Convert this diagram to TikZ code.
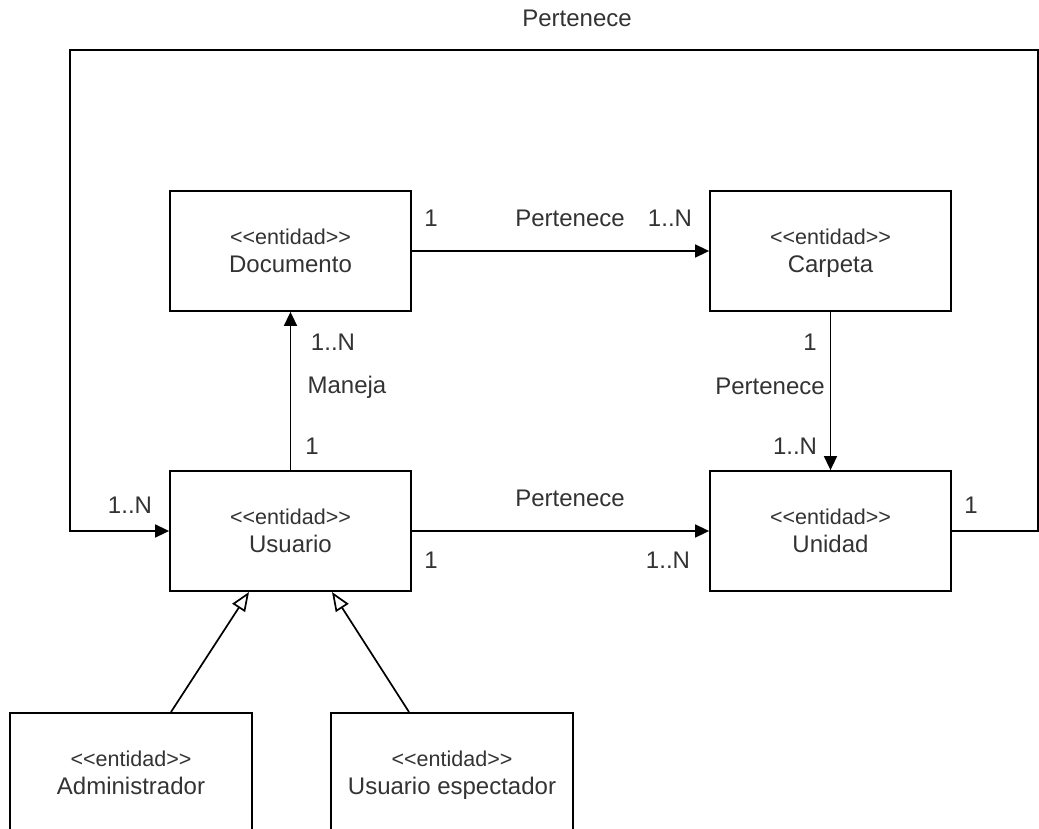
\documentclass[tikz,border=0pt]{standalone}
\usepackage{fontspec}
\setmainfont{Liberation Sans}
\usetikzlibrary{arrows.meta}
\begin{document}
\begin{tikzpicture}[x=1pt,y=-1pt,
  ent/.style={draw=black,line width=1.8pt,fill=white,minimum width=241pt,minimum height=120pt,inner sep=0pt,align=center,text=black!80,font=\fontsize{24}{28}\selectfont},
  conn/.style={draw=black,line width=1.7pt,-{Triangle[length=14pt,width=13pt]}},
  gen/.style={draw=black,line width=1.7pt,-{Triangle[open,length=19pt,width=15pt]}},
  lbl/.style={text=black!80,font=\fontsize{24}{28}\selectfont,inner sep=0pt}]
\useasboundingbox (0,0) rectangle (1039,829);
\newcommand{\ster}{{\fontsize{21.5}{24}\selectfont\rule{0pt}{22.8pt}<\kern0pt<entidad>\kern0pt>}\\[0pt]}
\newcommand{\nm}[1]{\strut #1}
\node[ent] (doc) at (290.5,251) {\ster\nm{Documento}};
\node[ent] (car) at (830.5,251) {\ster\nm{Carpeta}};
\node[ent] (usu) at (290.5,531) {\ster\nm{Usuario}};
\node[ent] (uni) at (830.5,531) {\ster\nm{Unidad}};
\node[ent,minimum width=242pt,anchor=north] (adm) at (131,712) {\ster\nm{Administrador}};
\node[ent,minimum width=242pt,anchor=north] (esp) at (452,712) {\ster\nm{Usuario espectador}};
% connectors
\draw[conn] (doc.east) -- (car.west);
\draw[conn] (usu.north) -- (doc.south);
\draw[conn] (car.south) -- (uni.north);
\draw[conn] (usu.east) -- (uni.west);
\coordinate (r1) at (1038,531);
\coordinate (r2) at (1038,50);
\coordinate (l1) at (70,50);
\coordinate (l2) at (70,531);
\draw[conn] (uni.east) -- (r1) -- (r2) -- (l1) -- (l2) -- (usu.west);
\draw[gen] (adm.north -| 171,0) -- (249,592);
\draw[gen] (esp.north -| 409,0) -- (332,592);
% labels
\node[lbl] (t0) at (577,18) {Pertenece};
\node[lbl] (t1) at (431,218) {1};
\node[lbl] (t2) at (570,218) {Pertenece};
\node[lbl] (t3) at (670,218) {1..N};
\node[lbl] (t4) at (333,342) {1..N};
\node[lbl] (t5) at (347,387) {Maneja};
\node[lbl] (t6) at (312,446) {1};
\node[lbl] (t7) at (810,342) {1};
\node[lbl] (t8) at (770,386) {Pertenece};
\node[lbl] (t9) at (795,446) {1..N};
\node[lbl] (t10) at (570,498) {Pertenece};
\node[lbl] (t11) at (431,560) {1};
\node[lbl] (t12) at (668,560) {1..N};
\node[lbl] (t13) at (130,505) {1..N};
\node[lbl] (t14) at (971,505) {1};
\end{tikzpicture}
\end{document}
